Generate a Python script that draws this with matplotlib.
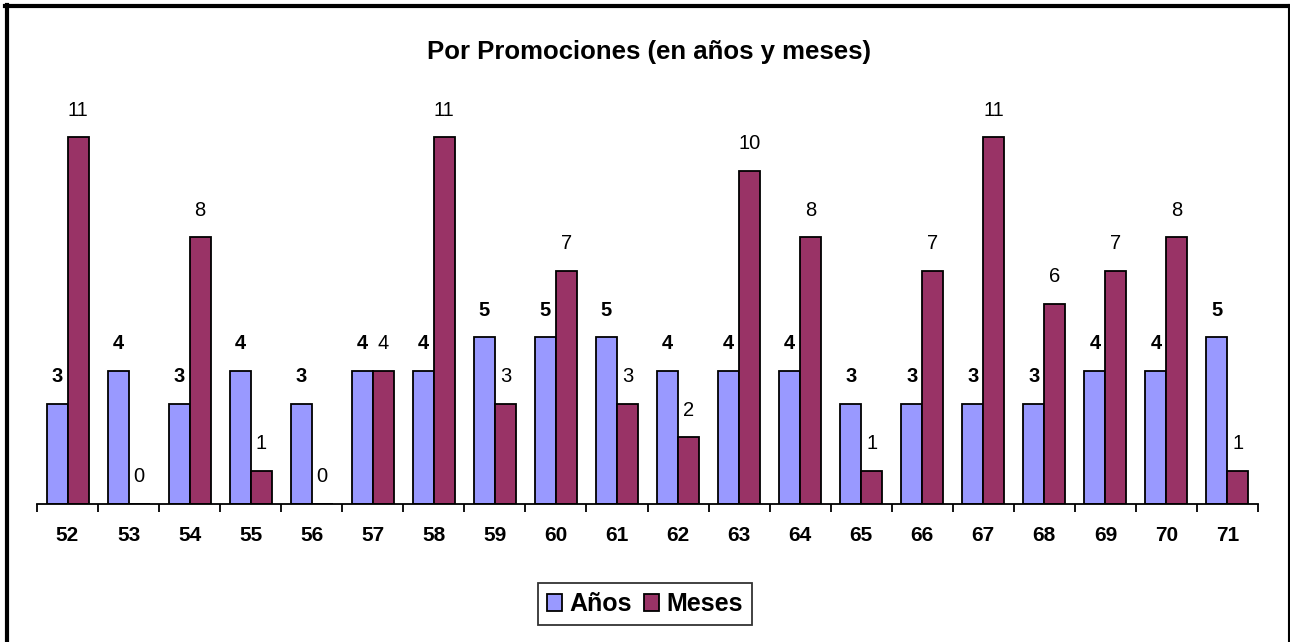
#!/usr/bin/env python3
import numpy as np
import matplotlib
matplotlib.use("Agg")
import matplotlib.pyplot as plt
from matplotlib.lines import Line2D

plt.rcParams['font.family'] = ['Liberation Sans', 'DejaVu Sans']

DPI = 100

categories = ["52", "53", "54", "55", "56", "57", "58", "59", "60", "61",
              "62", "63", "64", "65", "66", "67", "68", "69", "70", "71"]
anos = [3, 4, 3, 4, 3, 4, 4, 5, 5, 5, 4, 4, 4, 3, 3, 3, 3, 4, 4, 5]
meses = [11, 0, 8, 1, 0, 4, 11, 3, 7, 3, 2, 10, 8, 1, 7, 11, 6, 7, 8, 1]

COLOR_ANOS = "#9999FF"
COLOR_MESES = "#993366"

fig = plt.figure(figsize=(12.9, 6.42), dpi=DPI)
W, H = 1290.0, 642.0
ax = fig.add_axes([37 / W, (H - 504) / H, 1221 / W, 400 / H])

x = np.arange(len(categories))
bw = 0.344
b1 = ax.bar(x - bw / 2, anos, bw, color=COLOR_ANOS, edgecolor="black",
            linewidth=1.3, label="Años")
b2 = ax.bar(x + bw / 2, meses, bw, color=COLOR_MESES, edgecolor="black",
            linewidth=1.3, label="Meses")

# data labels
for xi, v in zip(x, anos):
    ax.annotate(str(v), (xi - bw / 2, v), xytext=(0, 19.5),
                textcoords="offset points", ha="center", va="center",
                fontsize=14.5, fontweight="bold")
for xi, v in zip(x, meses):
    ax.annotate(str(v), (xi + bw / 2, v), xytext=(0, 19.5),
                textcoords="offset points", ha="center", va="center",
                fontsize=14.5)

ax.set_xlim(-0.5, len(categories) - 0.5)
ax.set_ylim(0, 12)

for s in ("top", "right", "left"):
    ax.spines[s].set_visible(False)
ax.spines["bottom"].set_linewidth(1.3)
ax.set_yticks([])

ax.set_xticks(x)
ax.set_xticklabels(categories, fontsize=15, fontweight="bold")
ax.tick_params(axis="x", which="major", length=0, pad=16)
ax.set_xticks(np.arange(-0.5, len(categories)), minor=True)
ax.tick_params(axis="x", which="minor", length=5.5, width=1.3, direction="out")

fig.text(649 / W, 1 - 52 / H, "Por Promociones (en años y meses)",
         ha="center", va="center", fontsize=18.5, fontweight="bold")

leg = fig.legend(handles=[b1, b2], loc="center", bbox_to_anchor=(645 / W, 1 - 604 / H),
                 ncol=2, frameon=True, fancybox=False, edgecolor="black",
                 prop={'size': 18, 'weight': 'bold'}, handlelength=0.6,
                 handleheight=0.7, handletextpad=0.3, columnspacing=0.5,
                 borderpad=0.35, borderaxespad=0)
leg.get_frame().set_linewidth(1.3)

# outer border (top, left, right)
fig.add_artist(Line2D([5 / W, 1290 / W], [1 - 6 / H, 1 - 6 / H],
                      color="black", linewidth=3, transform=fig.transFigure))
fig.add_artist(Line2D([6.5 / W, 6.5 / W], [0, 1 - 5 / H],
                      color="black", linewidth=3, transform=fig.transFigure))
fig.add_artist(Line2D([1289 / W, 1289 / W], [0, 1 - 5 / H],
                      color="black", linewidth=1.5, transform=fig.transFigure))

fig.savefig("out.png", dpi=DPI)
